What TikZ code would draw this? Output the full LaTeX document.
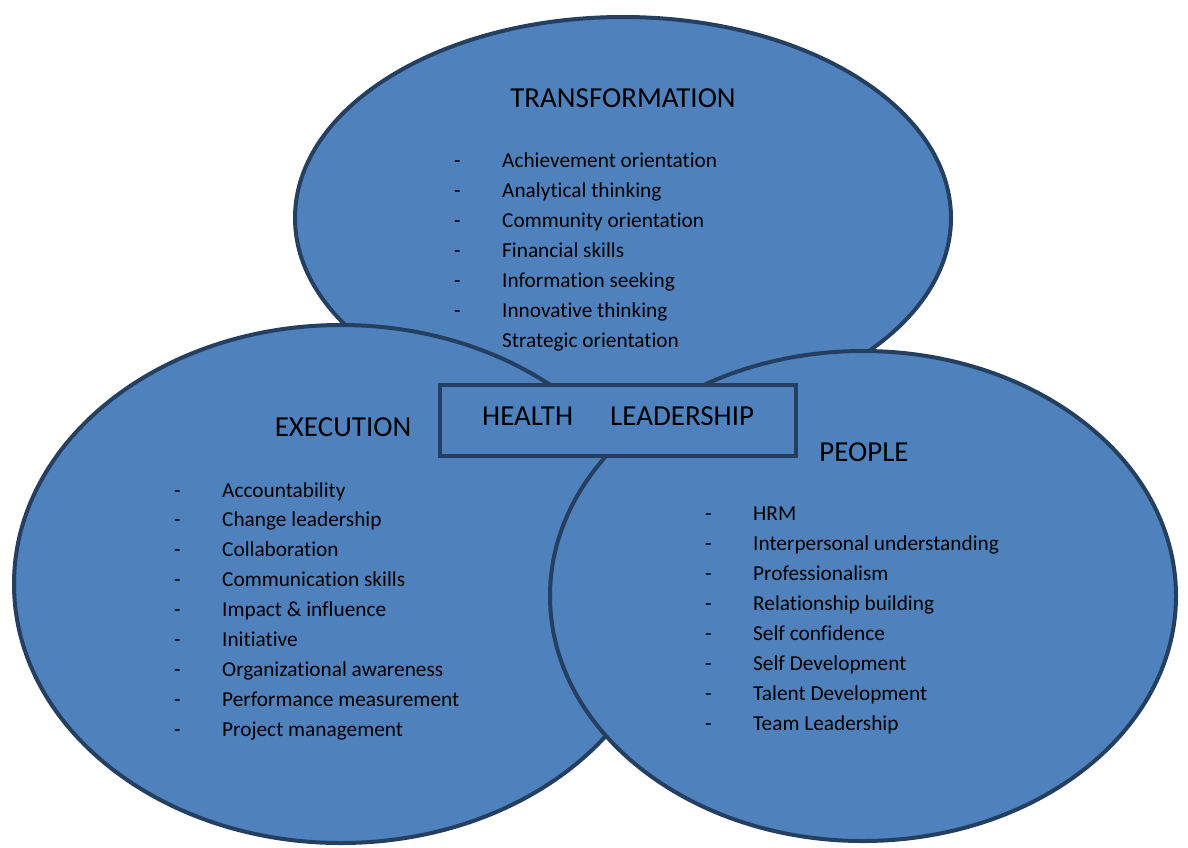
\documentclass[tikz,border=0pt]{standalone}
\usepackage{fontspec}
\setmainfont{Carlito}[Ligatures=NoCommon]
\usepackage{tikz}
\usetikzlibrary{shapes.geometric}

\definecolor{areablue}{HTML}{4F81BD}
\definecolor{rimblue}{HTML}{243F60}

% dash, then the item text in its own column
\newcommand{\dashitem}[1]{\makebox[48pt][l]{-}#1}

\begin{document}
\begin{tikzpicture}[x=1pt, y=-1pt,
    area/.style={ellipse, draw=rimblue, fill=areablue, line width=4pt, inner sep=0pt},
    head/.style={font=\fontsize{29}{35}\selectfont, anchor=base, inner sep=0pt},
    item/.style={font=\fontsize{21.3}{30}\selectfont, anchor=base west, inner sep=0pt}]
    \useasboundingbox (0,0) rectangle (1188,847);

    % transformation
    \node[area, minimum width=656, minimum height=402] (trans) at (623,218) {};
    \node[head] (transhead) at (623,107) {TRANSFORMATION};
    \node[item] (t1) at (454,167) {\dashitem{Achievement orientation}};
    \node[item] (t2) at (454,197) {\dashitem{Analytical thinking}};
    \node[item] (t3) at (454,227) {\dashitem{Community orientation}};
    \node[item] (t4) at (454,257) {\dashitem{Financial skills}};
    \node[item] (t5) at (454,287) {\dashitem{Information seeking}};
    \node[item] (t6) at (454,317) {\dashitem{Innovative thinking}};
    \node[item] (t7) at (454,347) {\hspace{48pt}Strategic orientation};

    % execution
    \node[area, minimum width=654, minimum height=518] (exec) at (341,584) {};
    \node[head] (exechead) at (343,436) {EXECUTION};
    \node[item] (e1) at (174,497) {\dashitem{Accountability}};
    \node[item] (e2) at (174,526) {\dashitem{Change leadership}};
    \node[item] (e3) at (174,556) {\dashitem{Collaboration}};
    \node[item] (e4) at (174,586) {\dashitem{Communication skills}};
    \node[item] (e5) at (174,616) {\dashitem{Impact \& influence}};
    \node[item] (e6) at (174,646) {\dashitem{Initiative}};
    \node[item] (e7) at (174,676) {\dashitem{Organizational awareness}};
    \node[item] (e8) at (174,706) {\dashitem{Performance measurement}};
    \node[item] (e9) at (174,736) {\dashitem{Project management}};

    % people
    \node[area, minimum width=626, minimum height=490] (people) at (863,596) {};
    \node[head] (peoplehead) at (864,461) {PEOPLE};
    \node[item] (p1) at (705,520) {\dashitem{HRM}};
    \node[item] (p2) at (705,550) {\dashitem{Interpersonal understanding}};
    \node[item] (p3) at (705,580) {\dashitem{Professionalism}};
    \node[item] (p4) at (705,610) {\dashitem{Relationship building}};
    \node[item] (p5) at (705,640) {\dashitem{Self confidence}};
    \node[item] (p6) at (705,670) {\dashitem{Self Development}};
    \node[item] (p7) at (705,700) {\dashitem{Talent Development}};
    \node[item] (p8) at (705,730) {\dashitem{Team Leadership}};

    % centre box
    \node[draw=rimblue, fill=areablue, line width=4pt, inner sep=0pt,
          minimum width=356, minimum height=71] (box) at (618,420.5) {};
    \node[head, anchor=base west] (hl1) at (482,425) {HEALTH};
    \node[head, anchor=base west] (hl2) at (610,425) {LEADERSHIP};
\end{tikzpicture}
\end{document}
